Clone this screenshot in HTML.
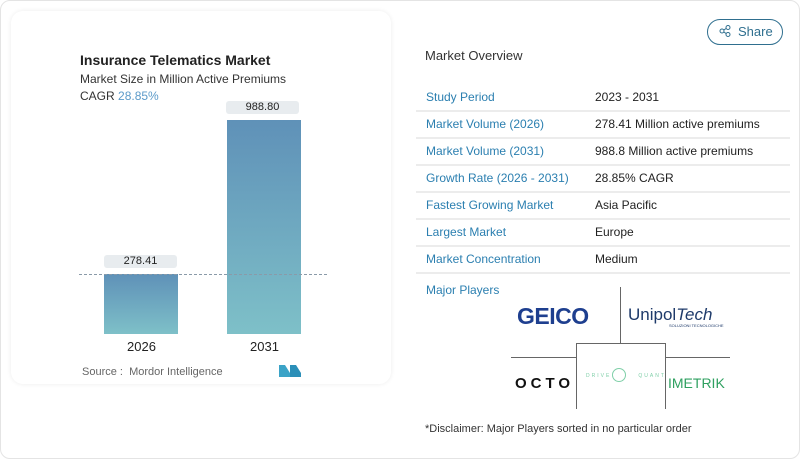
<!DOCTYPE html>
<html><head><style>
body{margin:0;width:800px;height:459px;background:#fff;font-family:"Liberation Sans",sans-serif;position:relative;overflow:hidden}
.outer{position:absolute;left:0;top:0;width:798px;height:457px;border:1px solid #e4e4e4;border-radius:10px;background:#fff}
.card{position:absolute;left:11px;top:11px;width:380px;height:373px;background:#fff;border-radius:12px;box-shadow:0 0 5px rgba(0,0,0,0.08)}
.t{position:absolute;white-space:nowrap}
.bar{position:absolute;background:linear-gradient(#5f91b8,#7ec0c8)}
.bub{position:absolute;background:#e8ecef;border-radius:3px;font-size:11px;color:#222;text-align:center;line-height:13px}
.row{position:absolute;left:416px;width:374px;height:26px;border-bottom:2px solid #ececec;font-size:12px}
.row .l{position:absolute;left:10px;top:6px;color:#2b7fb0}
.row .v{position:absolute;left:179px;top:6px;color:#222}
</style></head><body>
<div class="outer"></div>
<div class="card"></div>
<div class="t" style="left:80px;top:52px;font-size:14px;font-weight:bold;color:#222">Insurance Telematics Market</div>
<div class="t" style="left:80px;top:72px;font-size:12px;color:#333">Market Size in Million Active Premiums</div>
<div class="t" style="left:80px;top:89px;font-size:12px;color:#333">CAGR <span style="color:#5b9ac9">28.85%</span></div>
<div class="bub" style="left:226px;top:101px;width:73px">988.80</div>
<div class="bub" style="left:104px;top:255px;width:73px">278.41</div>
<div class="bar" style="left:227px;top:120px;width:74px;height:214px"></div>
<div class="bar" style="left:104px;top:274px;width:74px;height:60px"></div>
<div style="position:absolute;left:79px;top:274px;width:248px;border-top:1px dashed #8a9aa8"></div>
<div class="t" style="left:127px;top:339px;font-size:13px;color:#222">2026</div>
<div class="t" style="left:250px;top:339px;font-size:13px;color:#222">2031</div>
<div class="t" style="left:82px;top:366px;font-size:11px;color:#666">Source :&nbsp; Mordor Intelligence</div>
<svg style="position:absolute;left:279px;top:365px" width="22" height="12"><polygon points="0,12 0,0 6,0 11,8 11,12" fill="#3ba3c7"/><polygon points="11,12 11,0 17,0 22,8 22,12" fill="#2b8fb8"/></svg>
<div style="position:absolute;left:707px;top:19px;width:74px;height:24px;border:1px solid #2f6f8f;border-radius:13px"></div>
<svg style="position:absolute;left:719px;top:25px" width="12" height="12"><circle cx="3" cy="6" r="2" fill="none" stroke="#2f6f8f"/><circle cx="9" cy="2.5" r="2" fill="none" stroke="#2f6f8f"/><circle cx="9" cy="9.5" r="2" fill="none" stroke="#2f6f8f"/><line x1="4.7" y1="5" x2="7.3" y2="3.4" stroke="#2f6f8f"/><line x1="4.7" y1="7" x2="7.3" y2="8.6" stroke="#2f6f8f"/></svg>
<div class="t" style="left:738px;top:24px;font-size:13px;color:#2f6f8f">Share</div>
<div class="t" style="left:425px;top:48px;font-size:13px;color:#333">Market Overview</div>
<div class="row" style="top:84px"><span class="l">Study Period</span><span class="v">2023 - 2031</span></div>
<div class="row" style="top:111px"><span class="l">Market Volume (2026)</span><span class="v">278.41 Million active premiums</span></div>
<div class="row" style="top:138px"><span class="l">Market Volume (2031)</span><span class="v">988.8 Million active premiums</span></div>
<div class="row" style="top:165px"><span class="l">Growth Rate (2026 - 2031)</span><span class="v">28.85% CAGR</span></div>
<div class="row" style="top:192px"><span class="l">Fastest Growing Market</span><span class="v">Asia Pacific</span></div>
<div class="row" style="top:219px"><span class="l">Largest Market</span><span class="v">Europe</span></div>
<div class="row" style="top:246px"><span class="l">Market Concentration</span><span class="v">Medium</span></div>
<div class="t" style="left:426px;top:283px;font-size:12px;color:#2b7fb0">Major Players</div>
<div style="position:absolute;left:620px;top:287px;height:56px;border-left:1px solid #666"></div>
<div style="position:absolute;left:576px;top:343px;width:88px;height:65px;border:1px solid #666;border-bottom:none"></div>
<div style="position:absolute;left:511px;top:357px;width:65px;border-top:1px solid #666"></div>
<div style="position:absolute;left:665px;top:357px;width:65px;border-top:1px solid #666"></div>
<div class="t" style="left:517px;top:303px;font-size:23px;font-weight:bold;color:#1e3f8f;letter-spacing:-0.5px">GEICO</div>
<div class="t" style="left:628px;top:305px;font-size:17px;color:#1e3a6a">Unipol<i>Tech</i></div>
<div class="t" style="left:669px;top:323px;font-size:4px;color:#1e3a6a">SOLUZIONI TECNOLOGICHE</div>
<div class="t" style="left:515px;top:375px;font-size:15px;font-weight:bold;color:#111;letter-spacing:4px">OCTO</div>
<div class="t" style="left:586px;top:373px;font-size:5px;color:#7fcfa8;letter-spacing:2px">DRIVE &nbsp; &nbsp; &nbsp; &nbsp;QUANT</div>
<div style="position:absolute;left:612px;top:368px;width:12px;height:12px;border:1px solid #7fcfa8;border-radius:50%"></div>
<div class="t" style="left:668px;top:375px;font-size:14px;color:#2fa060">IMETRIK</div>
<div class="t" style="left:425px;top:423px;font-size:11px;color:#333">*Disclaimer: Major Players sorted in no particular order</div>
</body></html>
